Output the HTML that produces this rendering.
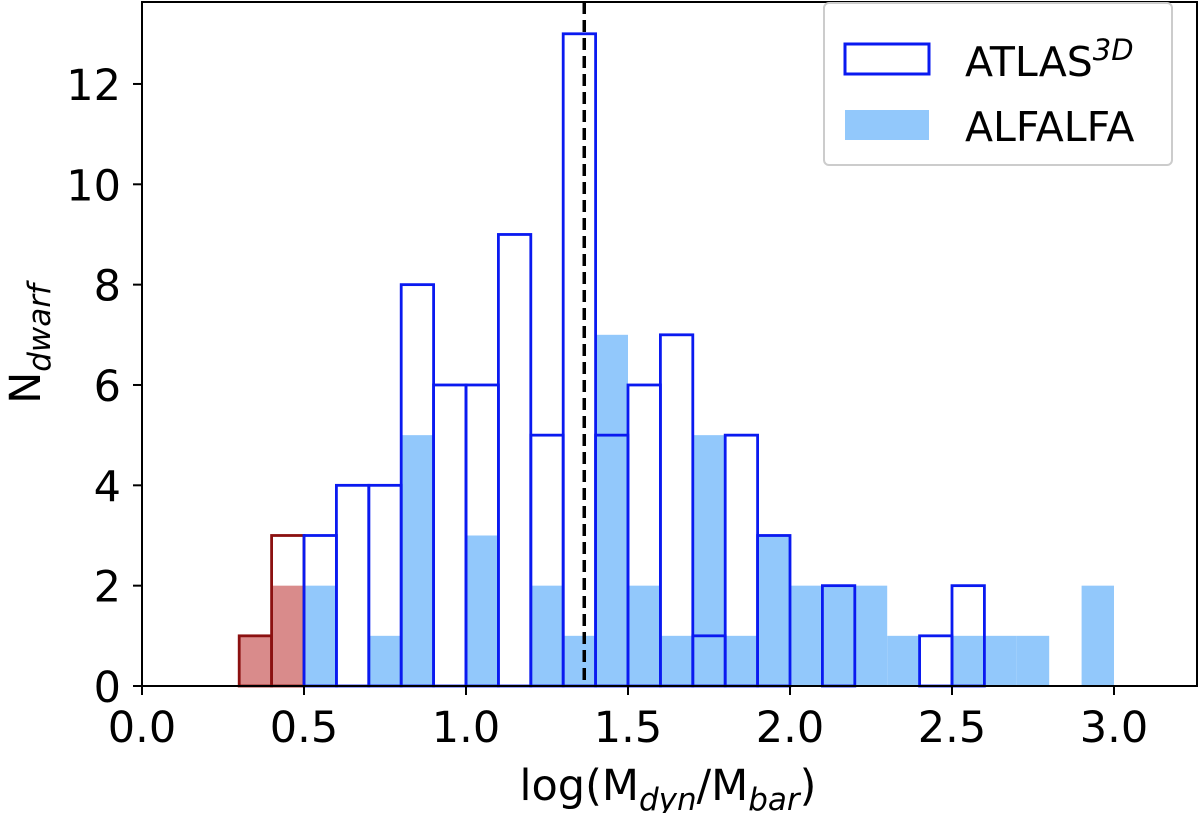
<!DOCTYPE html>
<html><head><meta charset="utf-8"><style>
html,body{margin:0;padding:0;background:#fff;}
svg{display:block;font-family:"DejaVu Sans","Liberation Sans",sans-serif;}
</style></head><body>
<svg id="chart" width="1200" height="813" viewBox="0 0 1200 813" xmlns="http://www.w3.org/2000/svg">
<g id="marks"></g>
<line id="vline" stroke="#000" stroke-width="3.5" stroke-dasharray="12,6"/>
<rect x="142" y="2" width="1055" height="684" fill="none" stroke="#000" stroke-width="2"/>
<g id="axes" font-size="43"></g>
<text x="668" y="800" font-size="43" text-anchor="middle">log(M<tspan font-style="italic" font-size="31" dy="10">dyn</tspan><tspan dy="-10">/M</tspan><tspan font-style="italic" font-size="31" dy="10">bar</tspan><tspan dy="-10">)</tspan></text>
<text transform="translate(40,344) rotate(-90)" font-size="43" text-anchor="middle">N<tspan font-style="italic" font-size="31" dy="10">dwarf</tspan></text>
<g>
<rect x="824" y="3" width="348" height="162" rx="5" fill="#fff" fill-opacity="0.85" stroke="#ccc" stroke-width="2"/>
<rect x="845" y="44" width="84" height="30" fill="none" stroke="#0a1af0" stroke-width="3"/>
<text x="965" y="76" font-size="41">ATLAS<tspan font-style="italic" font-size="29" dy="-16">3D</tspan></text>
<rect x="845" y="110" width="84" height="30" fill="#92c8fb"/>
<text x="965" y="141" font-size="41">ALFALFA</text>
</g>
</svg>
<script>
const binStarts=[0.3,0.4,0.5,0.6,0.7,0.8,0.9,1.0,1.1,1.2,1.3,1.4,1.5,1.6,1.7,1.8,1.9,2.0,2.1,2.2,2.3,2.4,2.5,2.6,2.7,2.8,2.9];
const atlasCounts=[1,3,3,4,4,8,6,6,9,5,13,5,6,7,1,5,3,0,2,0,0,1,2,0,0,0,0];
const alfalfaCounts=[1,2,2,0,1,5,0,3,0,2,1,7,2,1,5,1,3,2,2,2,1,0,1,1,1,0,2];
const redLimit=0.5;
const binWidth=0.1;
const medianValue=1.365;
const xTicks=[0.0,0.5,1.0,1.5,2.0,2.5,3.0];
const yTicks=[0,2,4,6,8,10,12];

const NS="http://www.w3.org/2000/svg";
const X=v=>142+v*324;
const Y=v=>686-v*50.17;
const marks=document.getElementById('marks');
function mk(tag,attrs){const e=document.createElementNS(NS,tag);for(const k in attrs)e.setAttribute(k,attrs[k]);return e;}
binStarts.forEach((b,i)=>{
  const h=alfalfaCounts[i];
  if(h>0){
    const red=b<redLimit-1e-9;
    const r=mk('rect',{x:X(b),y:Y(h),width:X(b+binWidth)-X(b),height:Y(0)-Y(h),fill:red?'#d98b8b':'#92c8fb'});
    
    
    marks.appendChild(r);
  }
});
binStarts.forEach((b,i)=>{
  const h=atlasCounts[i];
  if(h>0){
    const red=b<redLimit-1e-9;
    const r=mk('rect',{x:X(b),y:Y(h),width:X(b+binWidth)-X(b),height:Y(0)-Y(h),fill:'none',stroke:red?'#8b1010':'#0a1af0','stroke-width':2.8});
    
    
    marks.appendChild(r);
  }
});
const vl=document.getElementById('vline');
vl.setAttribute('x1',X(medianValue));vl.setAttribute('x2',X(medianValue));
vl.setAttribute('y1',2);vl.setAttribute('y2',686);
const axes=document.getElementById('axes');
xTicks.forEach(t=>{
  const l=mk('line',{x1:X(t),x2:X(t),y1:686,y2:695,stroke:'#000','stroke-width':2});
  
  
  axes.appendChild(l);
  const tx=mk('text',{x:X(t),y:742,'text-anchor':'middle'});
  tx.textContent=t.toFixed(1);
  
  
  axes.appendChild(tx);
});
yTicks.forEach(t=>{
  const l=mk('line',{x1:133,x2:142,y1:Y(t),y2:Y(t),stroke:'#000','stroke-width':2});
  
  
  axes.appendChild(l);
  const tx=mk('text',{x:121,y:Y(t)+16,'text-anchor':'end'});
  tx.textContent=String(t);
  
  
  axes.appendChild(tx);
});
</script>
</body></html>
